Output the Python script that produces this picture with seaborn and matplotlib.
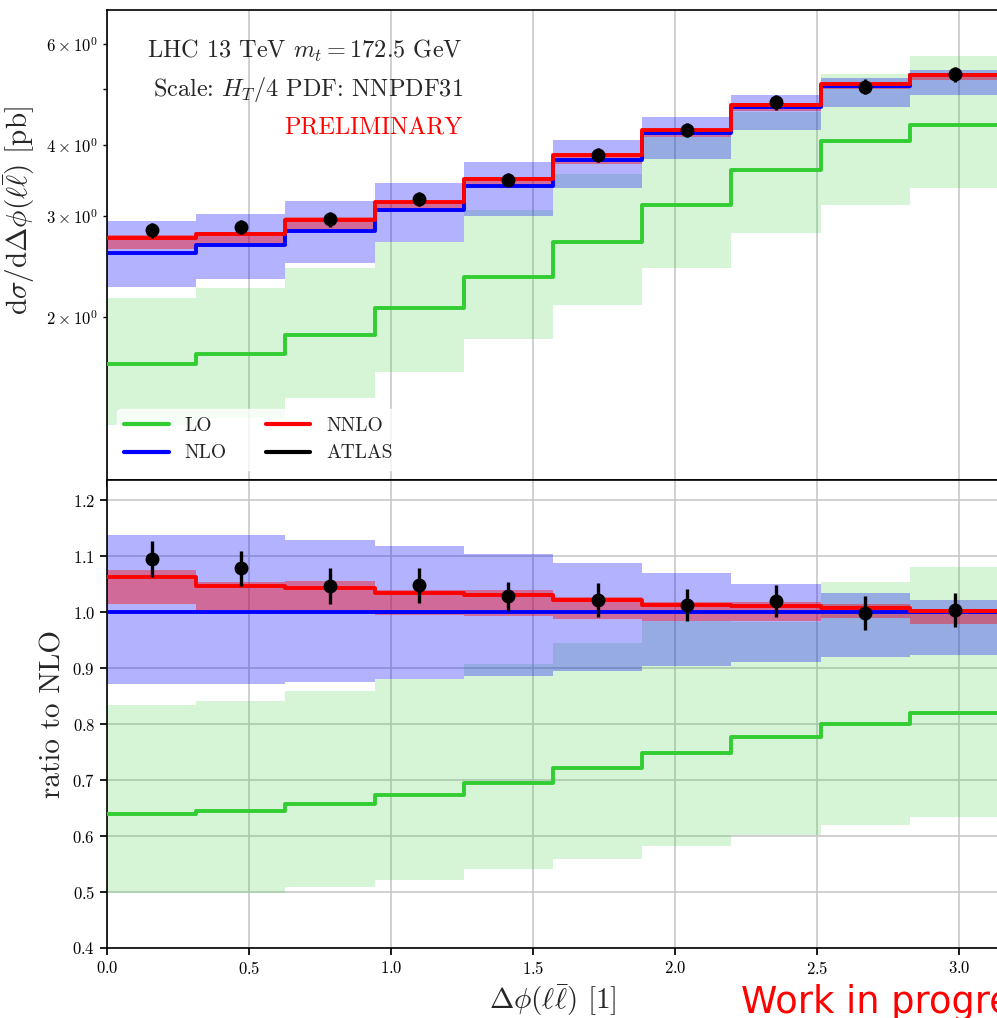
import numpy as np
import pandas as pd
import matplotlib
matplotlib.use("Agg")
import matplotlib.pyplot as plt
from matplotlib.lines import Line2D
import seaborn as sns

# bin edges in delta phi (pi/10 wide bins)
edges = [0.0, 0.3142, 0.6283, 0.9425, 1.2566, 1.5708, 1.8850, 2.1991, 2.5133, 2.8274, 3.1416]
centers = [0.157, 0.471, 0.785, 1.100, 1.414, 1.728, 2.042, 2.356, 2.670, 2.985]

# predictions [pb]
lo = [1.654, 1.718, 1.859, 2.068, 2.350, 2.708, 3.138, 3.611, 4.054, 4.341]
lo_up = [2.160, 2.244, 2.431, 2.701, 3.070, 3.549, 4.122, 4.569, 5.332, 5.724]
lo_dn = [1.292, 1.330, 1.440, 1.602, 1.829, 2.100, 2.438, 2.801, 3.140, 3.361]
nlo = [2.590, 2.665, 2.830, 3.069, 3.381, 3.756, 4.189, 4.653, 5.064, 5.300]
nlo_up = [2.947, 3.030, 3.192, 3.434, 3.729, 4.083, 4.482, 4.890, 5.236, 5.417]
nlo_dn = [2.256, 2.324, 2.479, 2.701, 2.996, 3.362, 3.783, 4.239, 4.659, 4.892]
nnlo = [2.751, 2.788, 2.952, 3.173, 3.486, 3.839, 4.239, 4.704, 5.105, 5.311]
nnlo_up = [2.784, 2.809, 2.988, 3.192, 3.516, 3.857, 4.264, 4.737, 5.140, 5.332]
nnlo_dn = [2.629, 2.673, 2.827, 3.054, 3.357, 3.707, 4.122, 4.579, 5.013, 5.189]

# ATLAS data
atlas = [2.836, 2.873, 2.962, 3.216, 3.476, 3.839, 4.243, 4.746, 5.054, 5.321]
atlas_err = [0.085, 0.085, 0.091, 0.095, 0.088, 0.113, 0.121, 0.135, 0.152, 0.164]

x_ticks = [0.0, 0.5, 1.0, 1.5, 2.0, 2.5, 3.0]
ratio_ticks = [0.4, 0.5, 0.6, 0.7, 0.8, 0.9, 1.0, 1.1, 1.2]

colors = {"LO": "#32cd32", "NLO": "#0000ff", "NNLO": "#ff0000"}

sns.set_theme(style="ticks")
plt.rcParams.update({
    "font.family": "serif",
    "font.serif": ["cmr10"],
    "mathtext.fontset": "cm",
    "axes.formatter.use_mathtext": True,
    "axes.unicode_minus": False,
    "axes.edgecolor": "black",
    "axes.linewidth": 1.2,
    "xtick.color": "black",
    "ytick.color": "black",
    "xtick.labelsize": 12,
    "ytick.labelsize": 12,
    "xtick.major.size": 5,
    "ytick.major.size": 5,
    "ytick.minor.size": 3,
})

nlo_arr = np.array(nlo)


def steps(v):
    return list(v) + [v[-1]]


def long_df(scale):
    rows = []
    for name, vals in [("LO", lo), ("NLO", nlo), ("NNLO", nnlo)]:
        v = np.array(vals) / scale
        for x, y in zip(edges, steps(v)):
            rows.append({"x": x, "y": y, "order": name})
    return pd.DataFrame(rows)


def draw(ax, scale):
    bands = [(lo_dn, lo_up, colors["LO"], 0.2),
             (nlo_dn, nlo_up, colors["NLO"], 0.3),
             (nnlo_dn, nnlo_up, colors["NNLO"], 0.4)]
    for dn, up, c, a in bands:
        ax.stairs(np.array(up) / scale, edges, baseline=np.array(dn) / scale,
                  fill=True, color=c, alpha=a, lw=0, zorder=1)
    sns.lineplot(data=long_df(scale), x="x", y="y", hue="order",
                 hue_order=["LO", "NLO", "NNLO"], palette=colors,
                 drawstyle="steps-post", estimator=None, sort=False,
                 lw=2.8, legend=False, ax=ax, zorder=3)
    ax.errorbar(centers, np.array(atlas) / scale, yerr=np.array(atlas_err) / scale,
                fmt="o", color="black", ms=9, elinewidth=2.4, capsize=0, zorder=5)


fig = plt.figure(figsize=(9.97, 10.18), dpi=100)
ax1 = fig.add_axes([0.1073, 0.5285, 0.8947, 0.4617])
ax2 = fig.add_axes([0.1073, 0.0688, 0.8947, 0.4597], sharex=ax1)

# top panel: absolute cross section
draw(ax1, 1.0)
ax1.set_yscale("log")
ax1.set_ylim(1.035, 6.89)
ax1.set_xlim(0, 3.1416)
ax1.grid(True, axis="x", color="#c8c8c8", lw=1.2)
ax1.tick_params(labelbottom=False)
ax1.set_xlabel("")
ax1.set_ylabel(r"d$\sigma$/d$\Delta\phi(\ell\bar{\ell})$ [pb]", fontsize=21)
ax1.yaxis.set_label_coords(-0.078, 0.574)

ax1.text(0.399, 0.913, r"LHC 13 TeV $m_t = 172.5$ GeV", transform=ax1.transAxes,
         ha="right", va="center", fontsize=17.5)
ax1.text(0.399, 0.830, r"Scale: $H_T/4$ PDF: NNPDF31", transform=ax1.transAxes,
         ha="right", va="center", fontsize=17.5)
ax1.text(0.399, 0.747, "PRELIMINARY", transform=ax1.transAxes, color="red",
         ha="right", va="center", fontsize=17.5)

handles = [Line2D([], [], color=colors["LO"], lw=3),
           Line2D([], [], color=colors["NLO"], lw=3),
           Line2D([], [], color=colors["NNLO"], lw=3),
           Line2D([], [], color="black", lw=3)]
ax1.legend(handles, ["LO", "NLO", "NNLO", "ATLAS"], ncol=2, loc="lower left",
           fontsize=14, frameon=True, framealpha=0.8, edgecolor="white",
           handlelength=2.3, columnspacing=2.0, handletextpad=0.8)

# bottom panel: ratio to NLO
draw(ax2, nlo_arr)
ax2.set_ylim(0.4, 1.236)
ax2.set_yticks(ratio_ticks)
ax2.set_xticks(x_ticks)
ax2.grid(True, color="#c8c8c8", lw=1.2)
ax2.set_ylabel("ratio to NLO", fontsize=21)
ax2.set_xlabel(r"$\Delta\phi(\ell\bar{\ell})$ [1]", fontsize=21)

fig.text(741 / 997, 5 / 1018, "Work in progress", color="red", fontsize=26.5,
         family="DejaVu Sans", va="baseline")

fig.savefig("out.png", dpi=100)
